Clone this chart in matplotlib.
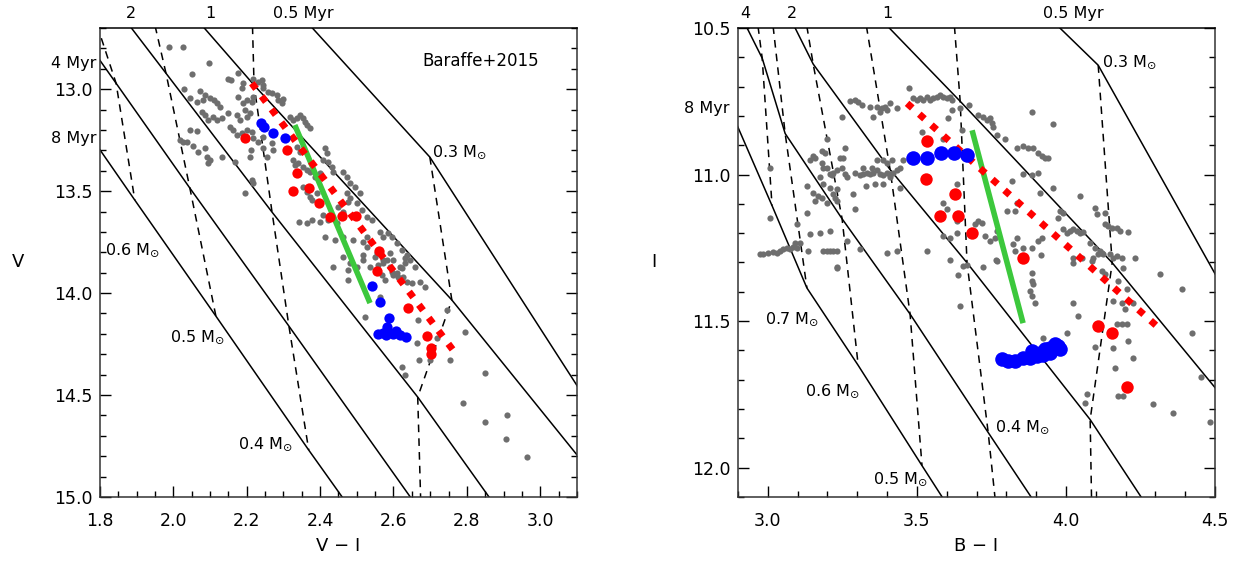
import numpy as np
import matplotlib.pyplot as plt
from matplotlib.ticker import MultipleLocator, FormatStrFormatter

plt.rcParams['font.family'] = ['DejaVu Sans']
plt.rcParams['mathtext.fontset'] = 'dejavusans'

# ---- Baraffe+2015 model grid (rows = mass, cols = age) ----
ages = [0.5, 1, 2, 4, 8]   # Myr

# left panel: V-I vs V
masses_L = [0.2, 0.3, 0.4, 0.5, 0.6, 0.7]
grid_vi = [
    [3.271, 3.217, 2.944, 2.944, 2.944],
    [2.699, 2.759, 2.666, 2.675, 2.699],
    [2.211, 2.220, 2.269, 2.315, 2.369],
    [1.936, 1.904, 1.980, 2.045, 2.116],
    [1.746, 1.691, 1.726, 1.844, 1.895],
    [1.582, 1.528, 1.609, 1.746, 1.746],
]
grid_v = [
    [14.931, 15.054, 15.211, 15.701, 16.191],
    [13.333, 14.034, 14.510, 15.074, 15.603],
    [12.368, 12.980, 13.603, 14.162, 14.770],
    [11.828, 12.328, 12.922, 13.485, 14.113],
    [11.387, 11.828, 12.324, 12.971, 13.544],
    [10.995, 11.485, 12.049, 12.721, 13.157],
]

# right panel: B-I vs I
masses_R = [0.2, 0.3, 0.4, 0.5, 0.6, 0.7, 0.8, 0.9]
grid_bi = [
    [4.651, 4.785, 4.316, 4.316, 4.316],
    [4.108, 4.155, 4.081, 4.091, 4.114],
    [3.598, 3.645, 3.668, 3.739, 3.796],
    [3.376, 3.316, 3.410, 3.477, 3.517],
    [3.108, 3.048, 3.152, 3.249, 3.303],
    [2.907, 2.907, 2.997, 3.058, 3.131],
    [2.773, 2.806, 2.923, 2.981, 3.014],
    [2.638, 2.739, 2.840, 2.883, 2.840],
]
grid_i = [
    [11.613, 12.079, 12.199, 12.801, 13.315],
    [10.627, 11.301, 11.836, 12.418, 12.801],
    [10.123, 10.750, 11.301, 11.880, 12.435],
    [9.890, 10.404, 10.983, 11.476, 11.993],
    [9.548, 9.993, 10.623, 11.151, 11.651],
    [9.274, 9.719, 10.308, 10.860, 11.387],
    [9.034, 9.514, 10.154, 10.603, 11.106],
    [8.829, 9.308, 9.959, 10.404, 10.699],
]

# ---- observed stars ----
gray_L = [
    (1.988, 12.794), (2.026, 12.794), (2.097, 12.873), (2.051, 12.926), (2.176, 12.922),
    (2.149, 12.951), (2.157, 12.956), (2.190, 12.971), (2.187, 12.995), (2.217, 12.951),
    (2.231, 12.966), (2.241, 12.956), (2.244, 12.980), (2.029, 13.000), (2.072, 13.010),
    (2.086, 13.029), (2.100, 13.044), (2.111, 13.054), (2.119, 13.069), (2.127, 13.088),
    (2.045, 13.044), (2.064, 13.064), (2.081, 13.054), (2.176, 13.039), (2.190, 13.069),
    (2.201, 13.054), (2.214, 13.064), (2.217, 13.039), (2.244, 12.995), (2.258, 13.015),
    (2.269, 13.020), (2.282, 13.029), (2.285, 13.054), (2.296, 13.069), (2.299, 13.049),
    (2.195, 13.103), (2.209, 13.118), (2.201, 13.137), (2.181, 13.152), (2.173, 13.127),
    (2.149, 13.118), (2.132, 13.142), (2.119, 13.152), (2.108, 13.137), (2.094, 13.152),
    (2.086, 13.127), (2.078, 13.113), (2.318, 13.137), (2.326, 13.152), (2.337, 13.142),
    (2.345, 13.127), (2.353, 13.142), (2.359, 13.162), (2.364, 13.176), (2.372, 13.191),
    (2.154, 13.186), (2.162, 13.201), (2.173, 13.225), (2.187, 13.216), (2.201, 13.201),
    (2.214, 13.211), (2.045, 13.201), (2.064, 13.206), (2.018, 13.250), (2.026, 13.260),
    (2.037, 13.260), (2.053, 13.279), (2.067, 13.309), (2.086, 13.289), (2.092, 13.333),
    (2.100, 13.348), (2.094, 13.363), (2.132, 13.333), (2.168, 13.358), (2.195, 13.510),
    (2.217, 13.240), (2.231, 13.260), (2.244, 13.289), (2.244, 13.235), (2.269, 13.265),
    (2.271, 13.299), (2.255, 13.333), (2.211, 13.299), (2.209, 13.333), (2.214, 13.446),
    (2.217, 13.461), (2.337, 13.284), (2.345, 13.309), (2.340, 13.363), (2.353, 13.382),
    (2.364, 13.397), (2.372, 13.407), (2.386, 13.431), (2.399, 13.412), (2.413, 13.289),
    (2.419, 13.314), (2.408, 13.348), (2.421, 13.358), (2.432, 13.382), (2.435, 13.407),
    (2.326, 13.348), (2.331, 13.373), (2.353, 13.480), (2.364, 13.505), (2.372, 13.529),
    (2.378, 13.544), (2.391, 13.510), (2.342, 13.652), (2.364, 13.657), (2.378, 13.642),
    (2.399, 13.652), (2.408, 13.618), (2.421, 13.642), (2.446, 13.657), (2.449, 13.578),
    (2.462, 13.603), (2.476, 13.554), (2.462, 13.407), (2.473, 13.431), (2.481, 13.461),
    (2.495, 13.480), (2.508, 13.510), (2.473, 13.510), (2.481, 13.534), (2.500, 13.559),
    (2.413, 13.725), (2.440, 13.740), (2.462, 13.725), (2.489, 13.740), (2.517, 13.750),
    (2.528, 13.725), (2.514, 13.593), (2.528, 13.627), (2.541, 13.642), (2.563, 13.701),
    (2.571, 13.725), (2.585, 13.706), (2.596, 13.725), (2.609, 13.755), (2.623, 13.789),
    (2.637, 13.814), (2.645, 13.838), (2.658, 13.873), (2.528, 13.775), (2.555, 13.804),
    (2.571, 13.838), (2.590, 13.804), (2.598, 13.838), (2.617, 13.873), (2.631, 13.853),
    (2.462, 13.824), (2.481, 13.853), (2.500, 13.873), (2.517, 13.838), (2.536, 13.873),
    (2.435, 13.873), (2.476, 13.887), (2.476, 13.936), (2.517, 13.814), (2.549, 13.824),
    (2.558, 13.863), (2.571, 13.853), (2.582, 13.838), (2.590, 13.873), (2.596, 13.897),
    (2.609, 13.902), (2.623, 13.877), (2.631, 13.828), (2.568, 13.912), (2.577, 13.936),
    (2.598, 13.912), (2.612, 13.922), (2.626, 13.922), (2.637, 13.946), (2.650, 13.951),
    (2.672, 13.946), (2.686, 13.971), (2.563, 14.020), (2.522, 14.118), (2.667, 14.132),
    (2.746, 14.083), (2.795, 14.191), (2.718, 14.221), (2.664, 14.245), (2.669, 14.328),
    (2.699, 14.328), (2.754, 14.328), (2.623, 14.363), (2.631, 14.402), (2.849, 14.392),
    (2.789, 14.539), (2.849, 14.632), (2.909, 14.598), (2.906, 14.716), (2.963, 14.804),
]
red_L = [
    (2.195, 13.240), (2.310, 13.299), (2.337, 13.412), (2.326, 13.500), (2.369, 13.485),
    (2.397, 13.559), (2.427, 13.627), (2.459, 13.623), (2.498, 13.623), (2.560, 13.794),
    (2.555, 13.892), (2.639, 14.074), (2.691, 14.211), (2.702, 14.270), (2.702, 14.299),
]
blue_L = [
    (2.239, 13.167), (2.247, 13.186), (2.271, 13.216), (2.304, 13.240), (2.541, 13.966),
    (2.563, 14.044), (2.587, 14.123), (2.582, 14.167), (2.557, 14.201), (2.579, 14.206),
    (2.598, 14.201), (2.617, 14.206), (2.634, 14.216), (2.571, 14.196), (2.608, 14.186),
]
green_L = [(2.331, 13.176), (2.536, 14.049)]
reddot_L = [(2.214, 12.971), (2.762, 14.279)]

gray_R = [
    (3.276, 10.750), (3.293, 10.747), (3.303, 10.753), (3.316, 10.764), (3.343, 10.771),
    (3.366, 10.771), (3.383, 10.774), (3.393, 10.771), (3.410, 10.757), (3.433, 10.774),
    (3.474, 10.705), (3.487, 10.740), (3.501, 10.747), (3.511, 10.740), (3.521, 10.747),
    (3.534, 10.736), (3.544, 10.747), (3.554, 10.740), (3.568, 10.736), (3.578, 10.729),
    (3.588, 10.736), (3.601, 10.740), (3.611, 10.736), (3.618, 10.747), (3.249, 10.805),
    (3.353, 10.805), (3.376, 10.788), (3.400, 10.781), (3.605, 10.808), (3.618, 10.781),
    (3.645, 10.774), (3.675, 10.764), (3.705, 10.798), (3.722, 10.805), (3.735, 10.815),
    (3.745, 10.808), (3.752, 10.825), (3.756, 10.839), (3.769, 10.866), (3.796, 10.877),
    (3.886, 10.788), (3.957, 10.829), (3.517, 10.856), (3.588, 10.877), (3.652, 10.849),
    (3.199, 10.877), (3.152, 10.935), (3.158, 10.945), (3.182, 10.962), (3.185, 10.976),
    (3.199, 10.979), (3.209, 10.997), (3.215, 11.003), (3.219, 10.993), (3.232, 10.986),
    (3.182, 10.918), (3.192, 10.928), (3.259, 10.908), (3.252, 10.942), (3.242, 10.942),
    (3.249, 10.976), (3.259, 10.997), (3.266, 11.010), (3.293, 10.993), (3.309, 11.000),
    (3.319, 10.997), (3.333, 10.993), (3.343, 10.997), (3.353, 10.993), (3.366, 10.986),
    (3.376, 10.997), (3.386, 11.003), (3.400, 10.993), (3.410, 10.997), (3.420, 10.993),
    (3.433, 10.986), (3.443, 10.979), (3.319, 10.976), (3.350, 10.979), (3.366, 10.952),
    (3.386, 10.952), (3.400, 10.962), (3.417, 10.952), (3.454, 10.952), (3.443, 11.045),
    (3.386, 11.031), (3.410, 11.010), (3.329, 11.038), (3.360, 11.031), (3.286, 11.065),
    (3.293, 11.117), (3.158, 11.089), (3.219, 11.065), (3.225, 11.079), (3.232, 11.089),
    (3.209, 11.045), (3.232, 11.048), (3.007, 10.976), (3.142, 10.952), (3.131, 11.038),
    (3.152, 11.062), (3.168, 11.072), (3.182, 11.079), (3.199, 11.096), (3.131, 11.130),
    (3.175, 11.010), (3.185, 11.031), (3.091, 11.233), (3.108, 11.233), (3.098, 11.250),
    (2.984, 11.271), (3.001, 11.267), (3.017, 11.264), (3.031, 11.267), (3.041, 11.260),
    (3.051, 11.254), (3.064, 11.250), (3.074, 11.254), (3.085, 11.247), (2.974, 11.271),
    (3.007, 11.147), (3.098, 11.168), (3.142, 11.202), (3.185, 11.260), (3.199, 11.260),
    (3.209, 11.260), (3.219, 11.260), (3.232, 11.260), (3.135, 11.260), (3.175, 11.199),
    (3.209, 11.192), (3.266, 11.226), (3.309, 11.254), (3.232, 11.319), (3.232, 11.315),
    (3.400, 11.267), (3.433, 11.260), (3.534, 11.260), (3.611, 11.291), (3.635, 11.158),
    (3.588, 11.209), (3.611, 11.216), (3.635, 11.199), (3.695, 11.168), (3.705, 11.158),
    (3.719, 11.164), (3.729, 11.209), (3.745, 11.226), (3.762, 11.216), (3.769, 11.192),
    (3.766, 11.291), (3.836, 11.216), (3.823, 11.236), (3.829, 11.260), (3.856, 11.250),
    (3.886, 11.250), (3.906, 11.226), (3.920, 11.216), (3.829, 11.123), (3.802, 11.123),
    (3.856, 10.997), (3.886, 11.003), (3.906, 10.993), (3.836, 10.908), (3.856, 10.901),
    (3.873, 10.908), (3.890, 10.911), (3.906, 10.928), (3.920, 10.935), (3.930, 10.942),
    (3.940, 10.942), (3.957, 11.045), (3.990, 11.185), (4.004, 11.199), (4.014, 11.192),
    (4.024, 11.185), (4.037, 11.192), (4.047, 11.199), (4.057, 11.195), (3.980, 11.123),
    (3.974, 11.147), (3.990, 11.130), (4.047, 11.072), (4.081, 11.233), (4.098, 11.250),
    (4.115, 11.260), (4.125, 11.271), (4.098, 11.113), (4.104, 11.134), (4.131, 11.130),
    (4.131, 11.168), (4.141, 11.175), (4.155, 11.182), (4.171, 11.182), (4.182, 11.192),
    (4.208, 11.195), (4.108, 11.271), (4.148, 11.271), (4.171, 11.277), (4.188, 11.284),
    (4.232, 11.284), (4.192, 11.319), (4.088, 11.295), (3.588, 11.096), (3.601, 11.117),
    (3.635, 11.031), (3.836, 11.096), (3.819, 11.021), (3.913, 11.062), (3.654, 11.312),
    (3.668, 11.308), (3.638, 11.342), (3.722, 11.315), (3.769, 11.295), (3.916, 11.274),
    (3.886, 11.336), (3.886, 11.363), (3.890, 11.373), (3.886, 11.414), (3.896, 11.438),
    (3.644, 11.449), (4.004, 11.541), (4.024, 11.284), (4.024, 11.301), (4.054, 11.284),
    (4.091, 11.284), (4.121, 11.267), (4.158, 11.284), (4.024, 11.438), (4.041, 11.483),
    (4.121, 11.329), (4.131, 11.339), (4.175, 11.363), (4.158, 11.432), (4.188, 11.438),
    (4.205, 11.390), (4.225, 11.438), (4.198, 11.459), (4.171, 11.510), (4.188, 11.510),
    (4.205, 11.510), (4.208, 11.569), (4.225, 11.627), (4.158, 11.593), (4.165, 11.661),
    (4.316, 11.339), (4.390, 11.390), (4.423, 11.541), (4.453, 11.692), (4.483, 11.843),
    (4.292, 11.784), (4.359, 11.815), (4.175, 11.754), (4.192, 11.754), (4.098, 11.589),
    (4.071, 11.747), (4.064, 11.778), (3.923, 11.558), (3.880, 11.397),
]
red_R = [
    (3.534, 10.884), (3.531, 11.014), (3.628, 11.065), (3.578, 11.140), (3.638, 11.140),
    (3.685, 11.199), (3.856, 11.284), (4.108, 11.517), (4.155, 11.541), (4.205, 11.726),
]
blue_R = [
    (3.487, 10.945), (3.534, 10.942), (3.581, 10.928), (3.625, 10.925), (3.668, 10.932),
    (3.786, 11.630), (3.806, 11.637), (3.829, 11.637), (3.856, 11.627), (3.880, 11.627),
    (3.886, 11.603), (3.903, 11.620), (3.913, 11.610), (3.930, 11.596), (3.947, 11.592),
    (3.963, 11.579), (3.973, 11.586), (3.980, 11.596), (3.947, 11.610), (3.923, 11.616),
]
green_R = [(3.685, 10.849), (3.856, 11.507)]
reddot_R = [(3.467, 10.757), (4.309, 11.521)]

GRAY = '#6e6e6e'
GREEN = '#3cc83c'


def draw_grid(ax, gx, gy):
    gx = np.array(gx)
    gy = np.array(gy)
    # mass tracks (dashed)
    for k in range(gx.shape[0]):
        ax.plot(gx[k], gy[k], color='k', lw=1.1, ls=(0, (5, 4)), zorder=1)
    # isochrones (solid)
    for j in range(gx.shape[1]):
        ax.plot(gx[:, j], gy[:, j], color='k', lw=1.1, zorder=1)


def draw_stars(ax, gray, red, blue, green, reddot, s_big_red, s_big_blue):
    g = np.array(gray).T
    ax.scatter(g[0], g[1], s=20, color=GRAY, lw=0, zorder=2)
    gr = np.array(green).T
    ax.plot(gr[0], gr[1], color=GREEN, lw=4, solid_capstyle='butt', zorder=3)
    rd = np.array(reddot).T
    ax.plot(rd[0], rd[1], color='red', lw=5, ls=(0, (1, 1.35)), zorder=3)
    r = np.array(red).T
    ax.scatter(r[0], r[1], s=s_big_red, color='red', lw=0, zorder=4)
    b = np.array(blue).T
    ax.scatter(b[0], b[1], s=s_big_blue, color='blue', lw=0, zorder=4)


def style_axes(ax):
    ax.tick_params(which='both', direction='in', top=False, right=True,
                   labelsize=12.5, width=1)
    ax.tick_params(which='major', length=8)
    ax.tick_params(which='minor', length=4)
    ax.tick_params(axis='x', pad=11)
    ax.tick_params(axis='y', pad=5)
    for sp in ax.spines.values():
        sp.set_linewidth(1.1)
        sp.set_color('#333333')
    ax.spines['top'].set_color('k')


fig = plt.figure(figsize=(12.4, 5.61), dpi=100)
axL = fig.add_axes([0.0806, 0.1141, 0.3847, 0.8360])
axR = fig.add_axes([0.5952, 0.1141, 0.3847, 0.8360])

# ---------------- left panel ----------------
draw_grid(axL, grid_vi, grid_v)
draw_stars(axL, gray_L, red_L, blue_L, green_L, reddot_L, 55, 55)
axL.set_xlim(1.8, 3.1)
axL.set_ylim(15.0, 12.7)
axL.xaxis.set_major_locator(MultipleLocator(0.2))
axL.xaxis.set_minor_locator(MultipleLocator(0.05))
axL.yaxis.set_major_locator(MultipleLocator(0.5))
axL.yaxis.set_minor_locator(MultipleLocator(0.1))
axL.xaxis.set_major_formatter(FormatStrFormatter('%.1f'))
axL.yaxis.set_major_formatter(FormatStrFormatter('%.1f'))
style_axes(axL)
axL.set_xlabel('V − I', fontsize=13, labelpad=5)
axL.set_ylabel('V', fontsize=13, rotation=0, labelpad=26, va='center')

tk = dict(fontsize=11.5, clip_on=False)
axL.text(1.884, 12.627, '2', ha='center', va='center', **tk)
axL.text(2.100, 12.627, '1', ha='center', va='center', **tk)
axL.text(2.271, 12.627, '0.5 Myr', ha='left', va='center', **tk)
axL.text(1.790, 12.873, '4 Myr', ha='right', va='center', **tk)
axL.text(1.790, 13.240, '8 Myr', ha='right', va='center', **tk)
axL.text(2.680, 12.863, 'Baraffe+2015', ha='left', va='center', fontsize=12)
axL.text(2.705, 13.309, r'0.3 M$_{\odot}$', ha='left', va='center', **tk)
axL.text(1.814, 13.789, r'0.6 M$_{\odot}$', ha='left', va='center', **tk)
axL.text(1.991, 14.216, r'0.5 M$_{\odot}$', ha='left', va='center', **tk)
axL.text(2.176, 14.740, r'0.4 M$_{\odot}$', ha='left', va='center', **tk)

# ---------------- right panel ----------------
draw_grid(axR, grid_bi, grid_i)
draw_stars(axR, gray_R, red_R, blue_R, green_R, reddot_R, 80, 110)
axR.set_xlim(2.9, 4.5)
axR.set_ylim(12.1, 10.5)
axR.xaxis.set_major_locator(MultipleLocator(0.5))
axR.xaxis.set_minor_locator(MultipleLocator(0.1))
axR.yaxis.set_major_locator(MultipleLocator(0.5))
axR.yaxis.set_minor_locator(MultipleLocator(0.1))
axR.xaxis.set_major_formatter(FormatStrFormatter('%.1f'))
axR.yaxis.set_major_formatter(FormatStrFormatter('%.1f'))
style_axes(axR)
axR.set_xlabel('B − I', fontsize=13, labelpad=5)
axR.set_ylabel('I', fontsize=13, rotation=0, labelpad=28, va='center')

axR.text(2.923, 10.449, '4', ha='center', va='center', **tk)
axR.text(3.081, 10.449, '2', ha='center', va='center', **tk)
axR.text(3.400, 10.449, '1', ha='center', va='center', **tk)
axR.text(3.923, 10.449, '0.5 Myr', ha='left', va='center', **tk)
axR.text(2.873, 10.774, '8 Myr', ha='right', va='center', **tk)
axR.text(4.121, 10.616, r'0.3 M$_{\odot}$', ha='left', va='center', **tk)
axR.text(2.991, 11.493, r'0.7 M$_{\odot}$', ha='left', va='center', **tk)
axR.text(3.125, 11.740, r'0.6 M$_{\odot}$', ha='left', va='center', **tk)
axR.text(3.353, 12.038, r'0.5 M$_{\odot}$', ha='left', va='center', **tk)
axR.text(3.762, 11.860, r'0.4 M$_{\odot}$', ha='left', va='center', **tk)

fig.savefig('out.png', dpi=100)
